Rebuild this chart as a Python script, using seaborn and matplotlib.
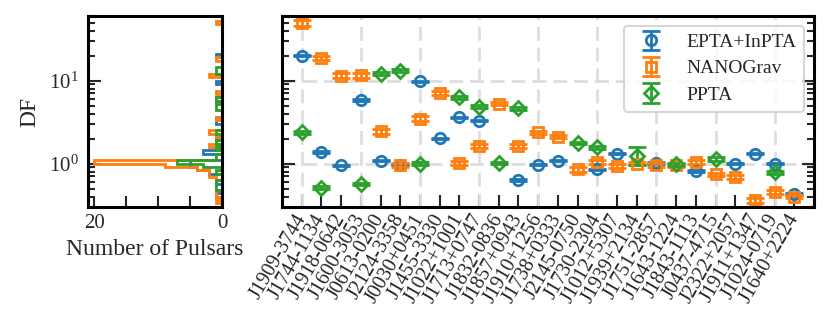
import numpy as np
import matplotlib
matplotlib.use("Agg")
import matplotlib.pyplot as plt
from matplotlib.ticker import NullLocator
import seaborn as sns

nan = np.nan

pulsars = ["J1909-3744", "J1744-1134", "J1918-0642", "J1600-3053", "J0613-0200",
           "J2124-3358", "J0030+0451", "J1455-3330", "J1022+1001", "J1713+0747",
           "J1832-0836", "J1857+0943", "J1910+1256", "J1738+0333", "J2145-0750",
           "J1730-2304", "J1012+5307", "J1939+2134", "J1751-2857", "J1643-1224",
           "J1843-1113", "J0437-4715", "J2322+2057", "J1911+1347", "J1024-0719",
           "J1640+2224"]

# DF per pulsar (NaN = pulsar not in that PTA)
epta_df = [20.0, 1.38, 0.95, 5.8, 1.09, 0.97, 9.8, 2.02, 3.6, 3.3, nan, 0.63, 0.97,
           1.09, nan, 0.85, 1.32, nan, 1.02, nan, 0.82, nan, 1.0, 1.32, 1.0, 0.43]
epta_err = [0.4, 0.03, 0.02, 0.12, 0.02, 0.02, 0.2, 0.04, 0.07, 0.07, nan, 0.015, 0.02,
            0.02, nan, 0.02, 0.03, nan, 0.02, nan, 0.02, nan, 0.02, 0.03, 0.02, 0.01]

nanograv_df = [49.6, 18.6, 11.4, 11.6, 2.45, 0.96, 3.48, 7.1, 1.02, 1.63, 5.28, 1.65, 2.38,
               2.11, 0.85, 1.06, 0.93, 1.0, 0.97, 0.95, 1.05, 0.74, 0.69, 0.36, 0.45, 0.40]
nanograv_err = [3.5, 1.0, 0.8, 0.8, 0.15, 0.06, 0.25, 0.35, 0.06, 0.09, 0.25, 0.09, 0.1,
                0.1, 0.05, 0.06, 0.05, 0.05, 0.05, 0.05, 0.06, 0.04, 0.04, 0.02, 0.025, 0.02]

ppta_df = [2.38, 0.51, nan, 0.57, 12.1, 13.2, 1.0, nan, 6.3, 4.82, 1.02, 4.64, nan,
           nan, 1.77, 1.58, nan, 1.22, nan, 0.98, nan, 1.14, nan, nan, 0.79, nan]
ppta_err_lo = [0.1, 0.02, nan, 0.02, 0.5, 0.5, 0.04, nan, 0.25, 0.2, 0.04, 0.2, nan,
               nan, 0.07, 0.06, nan, 0.25, nan, 0.04, nan, 0.05, nan, nan, 0.03, nan]
ppta_err_hi = [0.1, 0.02, nan, 0.02, 0.5, 0.5, 0.04, nan, 0.25, 0.2, 0.04, 0.2, nan,
               nan, 0.07, 0.06, nan, 0.38, nan, 0.04, nan, 0.05, nan, nan, 0.03, nan]

# pulsars not shown on the right (all near DF ~ 1): DF value and how many
epta_other_df = [0.96, 0.87, 0.78]
epta_other_n = [2, 3, 1]
nanograv_other_df = [1.3, 1.15, 1.04, 0.96, 0.87, 0.79, 0.72]
nanograv_other_n = [1, 1, 16, 5, 3, 2, 1]
ppta_other_df = [1.04, 0.95, 0.6]
ppta_other_n = [5, 2, 1]

sns.set_theme(style="ticks")
plt.rcParams['font.family'] = ['Liberation Serif', 'DejaVu Serif']
plt.rcParams['mathtext.fontset'] = 'stix'
plt.rcParams['xtick.direction'] = 'in'
plt.rcParams['ytick.direction'] = 'in'

colors = sns.color_palette("tab10")
pal = {"EPTA+InPTA": colors[0], "NANOGrav": colors[1], "PPTA": colors[2]}

fig = plt.figure(figsize=(8.31, 3.22), dpi=100)
ax_h = fig.add_axes([0.1059, 0.3571, 0.1613, 0.5932])
ax = fig.add_axes([0.3394, 0.3571, 0.6402, 0.5932], sharey=ax_h)

# 1. histogram of DF
bins = 10 ** np.arange(-0.52, 1.81, 0.04)
hist_sets = [
    ("EPTA+InPTA", epta_df, epta_other_df, epta_other_n),
    ("NANOGrav", nanograv_df, nanograv_other_df, nanograv_other_n),
    ("PPTA", ppta_df, ppta_other_df, ppta_other_n),
]
for name, shown, other, other_n in hist_sets:
    shown = np.array(shown)
    shown = shown[~np.isnan(shown)]
    vals = np.concatenate([shown, other])
    w = np.concatenate([np.ones(len(shown)), other_n])
    ax_h.hist(vals, bins=bins, weights=w, histtype='step', orientation='horizontal',
              color=pal[name], lw=2)

ax_h.set_yscale('log')
ax_h.set_ylim(0.3, 60)
ax_h.set_xlim(21, 0)
ax_h.set_xticks([20, 15, 10, 5, 0])
ax_h.set_xticklabels(['20', '', '', '', '0'])
ax_h.xaxis.set_minor_locator(NullLocator())
ax_h.set_ylabel('DF', fontsize=17, labelpad=6)
ax_h.set_xlabel('Number of Pulsars', fontsize=17)
ax_h.tick_params(which='both', direction='in', width=1.5, labelsize=15)
ax_h.tick_params(axis='y', which='major', length=9, pad=7)
ax_h.tick_params(axis='x', which='major', length=8, pad=5)
ax_h.tick_params(which='minor', length=5)

# 2. DF per pulsar
x = np.arange(len(pulsars))
eb_kw = dict(mfc='none', ms=7.5, mew=2, elinewidth=2, capsize=6.5, capthick=2)
ax.errorbar(x, epta_df, yerr=epta_err, fmt='o', color=pal["EPTA+InPTA"],
            label="EPTA+InPTA", **eb_kw)
ax.errorbar(x, nanograv_df, yerr=nanograv_err, fmt='s', color=pal["NANOGrav"],
            label="NANOGrav", **eb_kw)
ax.errorbar(x, ppta_df, yerr=[ppta_err_lo, ppta_err_hi], fmt='D', color=pal["PPTA"],
            label="PPTA", **eb_kw)

ax.set_xlim(-1, len(pulsars))
ax.set_xticks(x)
ax.set_xticklabels(pulsars, rotation=60, ha='right', va='center', rotation_mode='anchor',
                   fontsize=14.5)
ax.xaxis.remove_overlapping_locs = False
ax.set_xticks(x[::3], minor=True)
ax.tick_params(axis='x', which='major', direction='in', length=9, width=1.5, pad=6)
ax.tick_params(axis='x', which='minor', length=0)
ax.tick_params(axis='y', which='both', direction='in', left=True, right=True,
               labelleft=False, width=1.5)
ax.tick_params(axis='y', which='major', length=9)
ax.tick_params(axis='y', which='minor', length=5)

grid_kw = dict(color='#dedede', linestyle=(0, (5, 2.5)), linewidth=2)
ax.set_axisbelow(True)
ax.yaxis.grid(True, which='major', **grid_kw)
ax.xaxis.grid(True, which='minor', **grid_kw)

leg = ax.legend(loc='upper right', fontsize=14, frameon=True, fancybox=True,
                labelspacing=0.45)
leg.get_frame().set_edgecolor('#cccccc')
leg.get_frame().set_linewidth(1.5)

for a in (ax_h, ax):
    for s in a.spines.values():
        s.set_linewidth(2.2)
        s.set_color('black')

fig.savefig('out.png', dpi=100)
